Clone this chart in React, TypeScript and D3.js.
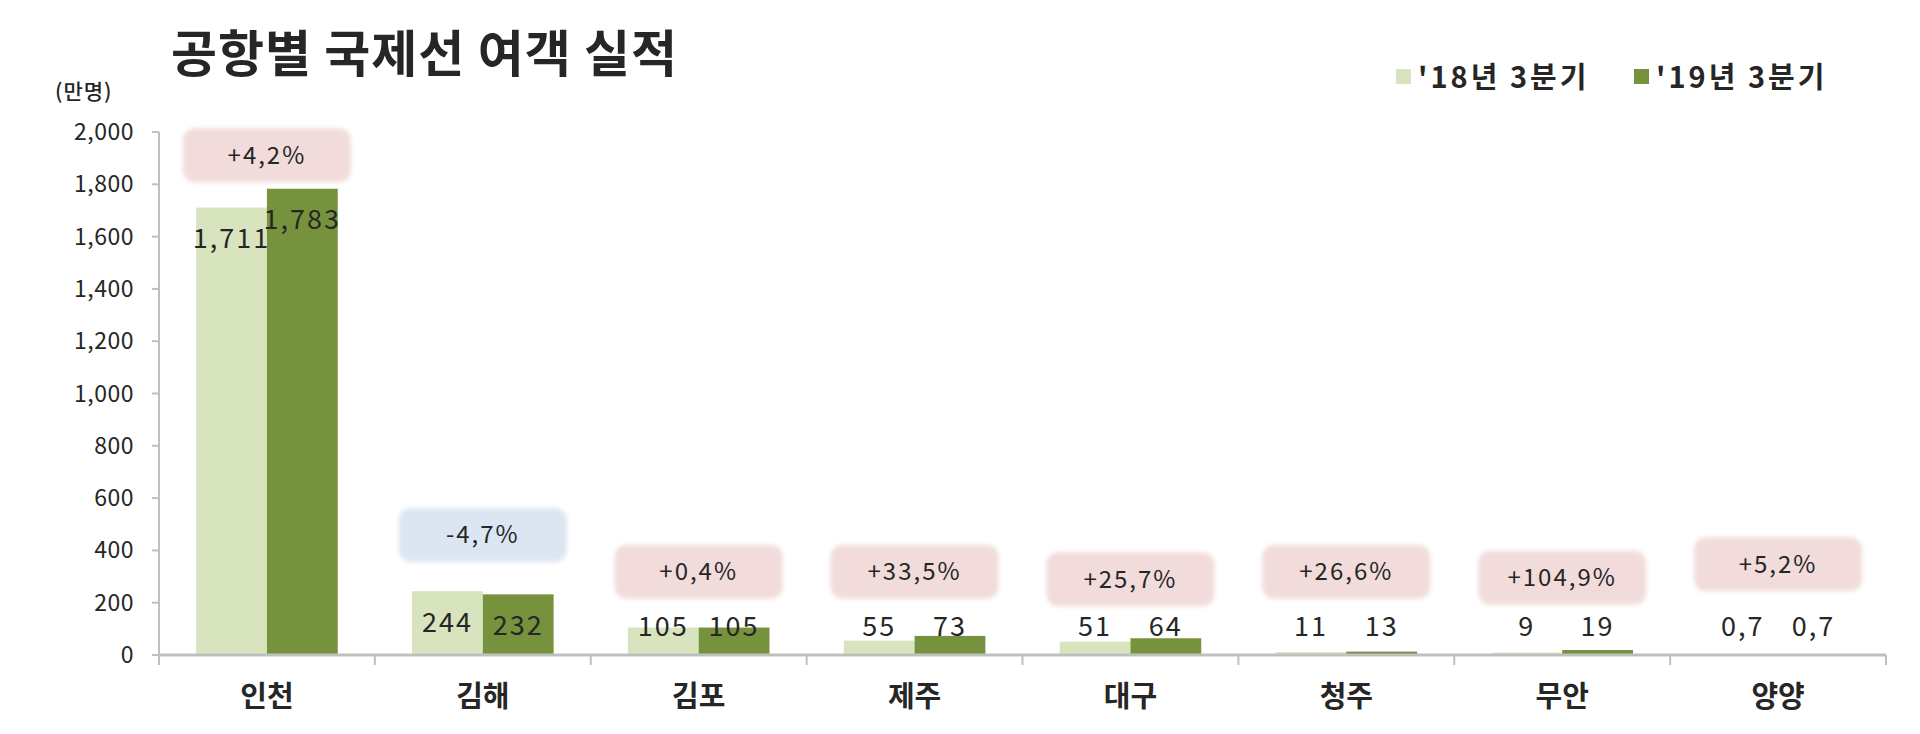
import React from "react";
import * as d3 from "d3";

const categories = ["인천", "김해", "김포", "제주", "대구", "청주", "무안", "양양"];
const series = ["'18년 3분기", "'19년 3분기"];
const values2018 = [1711, 244, 105, 55, 51, 11, 9, 0.7];
const values2019 = [1783, 232, 105, 73, 64, 13, 19, 0.7];
const labels2018 = ["1,711", "244", "105", "55", "51", "11", "9", "0,7"];
const labels2019 = ["1,783", "232", "105", "73", "64", "13", "19", "0,7"];
const changeLabels = ["+4,2%", "-4,7%", "+0,4%", "+33,5%", "+25,7%", "+26,6%", "+104,9%", "+5,2%"];
const changeUp = [true, false, true, true, true, true, true, true];
const boxLevels = [1911, 459, 318, 318, 290, 318, 295, 347];
const yTicks = [0, 200, 400, 600, 800, 1000, 1200, 1400, 1600, 1800, 2000];
const title = "공항별 국제선 여객 실적";
const unit = "(만명)";

const W = 1920;
const H = 734;
const FONT = "'Noto Sans CJK KR', 'Noto Sans', sans-serif";
const colors = ["#d7e4bd", "#76923c"];
const axisColor = "#bfbfbf";
const textColor = "#262626";

export default function App() {
  const x0 = d3.scaleBand<string>().domain(categories).range([159, 1886]).padding(0);
  const bw = x0.bandwidth();
  const x1 = d3
    .scaleBand<string>()
    .domain(series)
    .range([bw * 0.172, bw * 0.828])
    .padding(0);
  const y = d3.scaleLinear().domain([0, 2000]).range([655, 132]);
  const fmtTick = d3.format(",");
  const seriesValues = [values2018, values2019];
  const seriesLabels = [labels2018, labels2019];
  const boxW = 168;
  const boxH = 54;

  return (
    <div style={{ position: "fixed", left: 0, top: 0, width: W, height: H, background: "#fff" }}>
      <svg width={W} height={H} style={{ display: "block" }} fontFamily={FONT}>
        <defs>
          <filter id="soft" x="-20%" y="-30%" width="140%" height="160%">
            <feGaussianBlur stdDeviation="2" />
          </filter>
        </defs>
        <rect width={W} height={H} fill="#fff" />
        <text x={171} y={72} fontSize={50} fontWeight={700} fill={textColor} letterSpacing={1}>
          {title}
        </text>
        <text x={55} y={99} fontSize={21} fontWeight={500} fill={textColor} letterSpacing={1}>
          {unit}
        </text>

        {/* legend */}
        {series.map((s, i) => {
          const lx = [1396, 1634][i];
          return (
            <g key={s}>
              <rect x={lx} y={69} width={15} height={15} fill={colors[i]} />
              <text
                x={lx + 22}
                y={88}
                fontSize={29}
                fontWeight={700}
                fill={textColor}
                letterSpacing={3}
              >
                {s}
              </text>
            </g>
          );
        })}

        {/* y axis */}
        <line x1={159} x2={159} y1={y(2000)} y2={y(0)} stroke={axisColor} strokeWidth={2} />
        {yTicks.map((t) => (
          <g key={t}>
            <line x1={152} x2={159} y1={y(t)} y2={y(t)} stroke={axisColor} strokeWidth={2} />
            <text
              x={134}
              y={y(t)}
              dy="0.35em"
              textAnchor="end"
              fontSize={23}
              fill={textColor}
              letterSpacing={0.5}
            >
              {fmtTick(t)}
            </text>
          </g>
        ))}

        {/* bars */}
        {categories.map((c, ci) => (
          <g key={c} transform={`translate(${x0(c)},0)`}>
            {series.map((s, si) => {
              const v = seriesValues[si][ci];
              return (
                <rect
                  key={s}
                  x={x1(s)}
                  y={y(v)}
                  width={x1.bandwidth()}
                  height={y(0) - y(v)}
                  fill={colors[si]}
                />
              );
            })}
          </g>
        ))}

        {/* x axis */}
        <line x1={159} x2={1886} y1={y(0)} y2={y(0)} stroke={axisColor} strokeWidth={3} />
        {categories.map((c) => (
          <line
            key={"t" + c}
            x1={(x0(c) as number) + bw}
            x2={(x0(c) as number) + bw}
            y1={y(0)}
            y2={y(0) + 10}
            stroke={axisColor}
            strokeWidth={2}
          />
        ))}
        <line x1={159} x2={159} y1={y(0)} y2={y(0) + 10} stroke={axisColor} strokeWidth={2} />

        {/* value labels */}
        {categories.map((c, ci) =>
          series.map((s, si) => {
            const v = seriesValues[si][ci];
            const cx = (x0(c) as number) + (x1(s) as number) + x1.bandwidth() / 2;
            const cy = Math.min(y(v) + 31, y(0) - 28);
            return (
              <text
                key={c + s}
                x={cx}
                y={cy}
                dy="0.35em"
                textAnchor="middle"
                fontSize={27}
                fill={textColor}
                letterSpacing={2}
              >
                {seriesLabels[si][ci]}
              </text>
            );
          })
        )}

        {/* change boxes */}
        {categories.map((c, ci) => {
          const cx = (x0(c) as number) + bw / 2;
          const cy = y(boxLevels[ci]);
          const fill = changeUp[ci] ? "#f2dcdb" : "#dce6f2";
          return (
            <g key={"b" + c}>
              <rect
                x={cx - boxW / 2}
                y={cy - boxH / 2}
                width={boxW}
                height={boxH}
                rx={12}
                fill={fill}
                filter="url(#soft)"
              />
              <text
                x={cx}
                y={cy}
                dy="0.35em"
                textAnchor="middle"
                fontSize={24}
                fill={textColor}
                letterSpacing={2}
              >
                {changeLabels[ci]}
              </text>
            </g>
          );
        })}

        {/* category labels */}
        {categories.map((c) => (
          <text
            key={"c" + c}
            x={(x0(c) as number) + bw / 2}
            y={697}
            dy="0.35em"
            textAnchor="middle"
            fontSize={29}
            fontWeight={700}
            fill={textColor}
          >
            {c}
          </text>
        ))}
      </svg>
    </div>
  );
}
